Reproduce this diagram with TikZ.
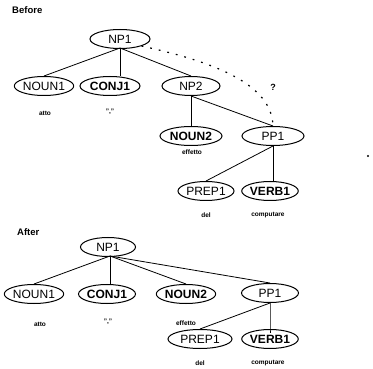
\documentclass[tikz,border=0pt]{standalone}
\usepackage{fontspec}
\setmainfont{Liberation Sans}
\usetikzlibrary{shapes.geometric}
\begin{document}
\begin{tikzpicture}[x=1pt,y=-1pt,
  tnode/.style={draw,ellipse,line width=1pt,inner sep=0pt,minimum height=19pt,font=\fontsize{12}{12}\selectfont},
  bnode/.style={tnode,font=\fontsize{12}{12}\selectfont\bfseries},
  word/.style={font=\fontsize{6.5}{6.5}\selectfont\bfseries,inner sep=0pt},
  head/.style={font=\fontsize{9.5}{9.5}\selectfont\bfseries,inner sep=0pt,anchor=west},
  edge/.style={line width=0.8pt},
  dotline/.style={line width=1.2pt,dash pattern=on 1.8pt off 7pt}]
\useasboundingbox (0,0) rectangle (373,369);
% Before
\node[head] (before) at (12,10) {Before};
\node[tnode,minimum width=60pt] (bnp1) at (120,39) {NP1};
\node[tnode,minimum width=56pt] (bnoun1) at (44,86) {NOUN1};
\node[bnode,minimum width=60pt] (bconj1) at (110,86) {CONJ1};
\node[tnode,minimum width=58pt] (bnp2) at (191,86) {NP2};
\node[bnode,minimum width=62pt] (bnoun2) at (191,136) {NOUN2};
\node[tnode,minimum width=62pt] (bpp1) at (273,136) {PP1};
\node[tnode,minimum width=56pt] (bprep1) at (206,191) {PREP1};
\node[bnode,minimum width=56pt] (bverb1) at (270,191) {VERB1};
\node[word] (batto) at (45,113) {atto};
\node[word] (bcomma) at (110,112) {","};
\node[word] (beffetto) at (192,152) {effetto};
\node[word] (bdel) at (206,215) {del};
\node[word] (bcomp) at (268,215) {computare};
\node[font=\fontsize{9}{9}\selectfont\bfseries,inner sep=0pt] (q) at (273,87) {?};
\coordinate (bh) at (120,48);
\draw[edge] (bh) -- (bnoun1.north);
\draw[edge] (bh) -- (bconj1.north -| bh);
\draw[edge] (bh) -- (bnp2.north);
\draw[edge] (bnp2.south) -- (bnoun2.north);
\draw[edge] (bnp2.south) -- (bpp1.north);
\draw[edge] (bpp1.south) -- (bprep1.north);
\draw[edge] (bpp1.south) -- (bverb1.north -| bpp1.south);
\draw[dotline] (bnp1.south east) .. controls (230,65) and (272,90) .. (bpp1.north);
% stray speck
\fill (368,156) circle (1.2pt);
% After
\node[head] (after) at (17,232) {After};
\node[tnode,minimum width=55pt] (anp1) at (108,247) {NP1};
\node[tnode,minimum width=56pt] (anoun1) at (34,294) {NOUN1};
\node[bnode,minimum width=57pt] (aconj1) at (107,294) {CONJ1};
\node[bnode,minimum width=58pt] (anoun2) at (186,294) {NOUN2};
\node[tnode,minimum width=57pt] (app1) at (270,293) {PP1};
\node[tnode,minimum width=64pt] (aprep1) at (200,339) {PREP1};
\node[bnode,minimum width=56pt] (averb1) at (270,339) {VERB1};
\node[word] (aatto) at (40,324) {atto};
\node[word] (acomma) at (108,322) {","};
\node[word] (aeffetto) at (186,323) {effetto};
\node[word] (adel) at (200,363) {del};
\node[word] (acomp) at (268,363) {computare};
\coordinate (ah) at (110,256);
\draw[edge] (ah) -- (anoun1.north);
\draw[edge] (ah) -- (aconj1.north -| ah);
\draw[edge] (ah) -- (anoun2.north);
\draw[edge] (ah) -- (app1.north);
\draw[edge] (app1.south) -- (aprep1.north);
\draw[edge] (app1.south) -- (averb1.center |- averb1.north) -- ++(0,4);
\end{tikzpicture}
\end{document}
